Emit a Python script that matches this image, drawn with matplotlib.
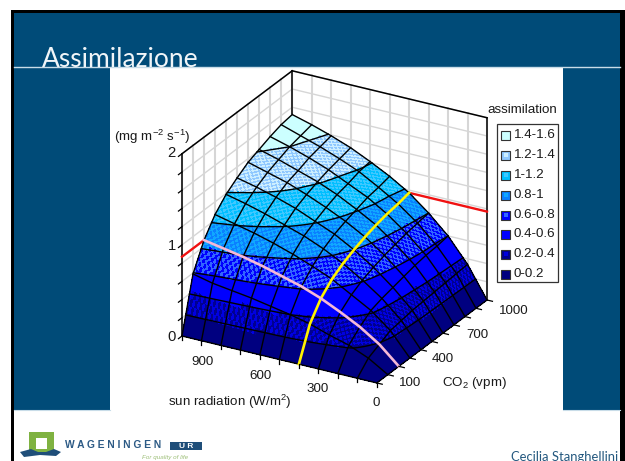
import numpy as np
import matplotlib
matplotlib.use("Agg")
import matplotlib.pyplot as plt
from matplotlib.patches import Rectangle, Polygon
from mpl_toolkits.mplot3d import proj3d

plt.rcParams['font.family'] = ['Liberation Sans', 'DejaVu Sans']
plt.rcParams['mathtext.fontset'] = 'custom'
plt.rcParams['mathtext.rm'] = 'Liberation Sans'
plt.rcParams['mathtext.default'] = 'regular'

# ---------- data ----------
co2 = [0, 100, 200, 300, 400, 500, 600, 700, 800, 900, 1000]
radiation = [0, 100, 200, 300, 400, 500, 600, 700, 800, 900, 1000]
assim_r0 = [0, 0, 0, 0, 0, 0, 0, 0, 0, 0, 0]
assim_r100 = [0, .13, .19, .25, .27, .29, .30, .31, .32, .33, .34]
assim_r200 = [0, .22, .33, .42, .46, .49, .52, .55, .57, .58, .60]
assim_r300 = [0, .28, .44, .54, .61, .66, .70, .73, .76, .78, .80]
assim_r400 = [0, .35, .54, .66, .74, .80, .85, .89, .92, .94, .97]
assim_r500 = [0, .40, .62, .75, .85, .92, .97, 1.01, 1.05, 1.07, 1.10]
assim_r600 = [0, .44, .68, .83, .94, 1.01, 1.07, 1.12, 1.15, 1.19, 1.21]
assim_r700 = [0, .48, .74, .90, 1.01, 1.10, 1.16, 1.21, 1.25, 1.28, 1.31]
assim_r800 = [0, .51, .79, .96, 1.08, 1.17, 1.24, 1.28, 1.33, 1.36, 1.39]
assim_r900 = [0, .54, .83, 1.01, 1.14, 1.23, 1.30, 1.35, 1.40, 1.43, 1.46]
assim_r1000 = [0, .59, .87, 1.06, 1.19, 1.28, 1.36, 1.41, 1.46, 1.50, 1.52]
red_left_level = [.87, .87]
red_right_level = [.97, .97]
z_ticks = [0, 1, 2]
z_grid = [0, .2, .4, .6, .8, 1, 1.2, 1.4, 1.6, 1.8, 2]
band_levels = [0, .2, .4, .6, .8, 1, 1.2, 1.4, 1.6]
band_labels = ['0-0.2', '0.2-0.4', '0.4-0.6', '0.6-0.8', '0.8-1', '1-1.2', '1.2-1.4', '1.4-1.6']
band_colors_a = ['#000080', '#000090', '#0000FF', '#0000FF', '#0A80FF', '#00BFFF', '#8FC8FF', '#CCFFFF']
band_colors_b = ['#000080', '#0000E0', '#0000FF', '#3366FF', '#10A8FF', '#40C8FF', '#CCEEFF', '#CCFFFF']

Z = np.array([assim_r0, assim_r100, assim_r200, assim_r300, assim_r400, assim_r500,
              assim_r600, assim_r700, assim_r800, assim_r900, assim_r1000])
co2_arr = np.array(co2, float)
rad_arr = np.array(radiation, float)

W, H = 625, 461
NAVY = '#004B78'
fig = plt.figure(figsize=(W / 100, H / 100), dpi=100, facecolor='white')

# ---------- slide background, in pixel coordinates ----------
bg = fig.add_axes([0, 0, 1, 1])
bg.set_xlim(0, W)
bg.set_ylim(H, 0)
bg.set_axis_off()
bg.add_patch(Rectangle((11, 10), 614, 451, fc='black', ec='none'))
bg.add_patch(Rectangle((13.5, 13), 606.5, 448, fc='white', ec='none'))
bg.add_patch(Rectangle((13.5, 13), 606.5, 397, fc=NAVY, ec='none'))
bg.add_patch(Rectangle((110, 68), 453, 343, fc='white', ec='none'))
bg.plot([13.5, 620], [67.5, 67.5], color='#C8DCE8', lw=1)
bg.plot([13.5, 110], [410, 410], color='#C8DCE8', lw=.8)
bg.plot([563, 620], [410, 410], color='#C8DCE8', lw=.8)
bg.text(42, 67, 'Assimilazione', family=['Lato', 'Liberation Sans'],
        fontsize=19, color='#F0F5F8', ha='left', va='baseline')

# logo
bg.add_patch(Polygon([(29, 432), (54, 432), (54, 452), (29, 452)], fc='#7FB241', ec='none'))
bg.add_patch(Rectangle((36, 438), 11, 11, fc='white', ec='none'))
bg.add_patch(Polygon([(20, 452), (31, 449), (38, 452), (46, 452), (54, 449), (61, 452),
                      (56, 456), (40, 455), (24, 457)], fc='#1F4E79', ec='none'))
bg.text(65, 445, 'W A G E N I N G E N', fontsize=7.4, fontweight='bold', color='#2C5A85', ha='left', va='center')
bg.add_patch(Rectangle((170, 442), 32, 8, fc='#1F4E79', ec='none'))
bg.text(186, 446, 'U R', fontsize=6, fontweight='bold', color='white', ha='center', va='center')
bg.text(142, 457, 'For quality of life', fontsize=4.5, style='italic', color='#9DBF78', ha='left', va='center')
bg.text(511, 460.5, 'Cecilia Stanghellini', family=['Lato', 'Liberation Sans'],
        fontsize=9.4, color='#24587F', ha='left', va='baseline')

# chart texts
FS = 9.6
TC = '#1a1a1a'
for v, y in zip(z_ticks, [337, 246, 153]):
    bg.text(176, y, str(v), fontsize=FS + 1, color=TC, ha='right', va='center')
bg.text(114, 137, '(mg m$^{-2}$ s$^{-1}$)', fontsize=FS, color=TC, ha='left', va='center')
for s, x, y in zip(['900', '600', '300', '0'], [202, 260, 318, 376], [362, 376, 389, 403]):
    bg.text(x, y, s, fontsize=FS, color=TC, ha='center', va='center')
for s, x, y in zip(['100', '400', '700', '1000'], [410, 443, 477, 514], [383, 359, 335, 311]):
    bg.text(x, y, s, fontsize=FS, color=TC, ha='center', va='center')
bg.text(168, 402, 'sun radiation (W/m$^2$)', fontsize=FS, color=TC, ha='left', va='center')
bg.text(442, 383, 'CO$_2$ (vpm)', fontsize=FS, color=TC, ha='left', va='center')

# legend
bg.text(522, 110, 'assimilation', fontsize=FS, color=TC, ha='center', va='center')
bg.add_patch(Rectangle((497, 124), 61, 158, fc='white', ec='#333333', lw=.9))
legend_y = [274, 254, 234, 215, 195, 175, 155, 135]
for lab, ca, cb, y in zip(band_labels, band_colors_a, band_colors_b, legend_y):
    bg.add_patch(Rectangle((501, y - 4.5), 9, 9, fc=ca, ec='#333333', lw=.8))
    bg.add_patch(Rectangle((503.5, y - 2), 4, 4, fc=cb, ec='none'))
    bg.text(513.5, y, lab, fontsize=FS, color=TC, ha='left', va='center')

# ---------- 3D chart ----------
ax = fig.add_axes([.1, .1, .8, .8], projection='3d', proj_type='ortho')
ax.patch.set_visible(False)
ax.set_axis_off()
ax.computed_zorder = False
ax.view_init(elev=25.2, azim=-150.5)
ax.set_box_aspect((1, 1, .9))
ax.set_xlim(0, 1000)
ax.set_ylim(0, 1000)
ax.set_zlim(0, 2)


def to_px(c, r, z):
    x, y, _ = proj3d.proj_transform(c, r, z, ax.get_proj())
    d = ax.transData.transform((x, y))
    return d[0], H - d[1]


# fit the 3D box to the frame seen in the picture
for _ in range(4):
    ax.apply_aspect()
    lx, ly = to_px(0, 1000, 0)
    rx, ry = to_px(1000, 0, 0)
    pos = ax.get_position(original=True)
    s = (487 - 182) / (rx - lx)
    w = pos.width * W * s
    cx = pos.x0 * W + pos.width * W / 2
    cy = pos.y0 * H + pos.height * H / 2
    ax.set_position([(cx - w / 2) / W, (cy - w / 2) / H, w / W, w / H])
    ax.apply_aspect()
    lx, ly = to_px(0, 1000, 0)
    pos = ax.get_position(original=True)
    ax.set_position([pos.x0 + (182 - lx) / W, pos.y0 - (336 - ly) / H, pos.width, pos.height])
ax.apply_aspect()

GRID = '#D6D6D6'
for c in co2:
    ax.plot([c, c], [1000, 1000], [0, 2], color=GRID, lw=1.5, zorder=1)
for r in radiation:
    ax.plot([1000, 1000], [r, r], [0, 2], color=GRID, lw=1.5, zorder=1)
for z in z_grid:
    ax.plot([0, 1000], [1000, 1000], [z, z], color=GRID, lw=1, zorder=1)
    ax.plot([1000, 1000], [0, 1000], [z, z], color=GRID, lw=1, zorder=1)

# frame
FK = dict(color='black', lw=1.1, zorder=1.5)
ax.plot([0, 0], [1000, 1000], [0, 2], **FK)
ax.plot([0, 1000], [1000, 1000], [2, 2], **FK)
ax.plot([1000, 1000], [1000, 0], [2, 2], **FK)
ax.plot([1000, 1000], [0, 0], [0, 2], **FK)
ax.plot([1000, 1000], [1000, 1000], [0, 2], **FK)
for z in z_grid:
    ax.plot([0, -32], [1000, 1000], [z, z], color='black', lw=.9, zorder=1.5)

# red level lines on the walls
ax.plot([0, 200], [1000, 1000], red_left_level, color='#F01010', lw=1.7, zorder=2)
ax.plot([1000, 1000], [0, 400], red_right_level, color='#F01010', lw=1.7, zorder=2)

# surface: each grid cell is split so the value bands can be filled inside it
N = 8
idx = np.linspace(0, 10, 10 * N + 1)
base = np.arange(11)
Zc = np.array([np.interp(idx, base, row) for row in Z])
Zf = np.array([np.interp(idx, base, col) for col in Zc.T]).T
cf = np.interp(idx, base, co2_arr)
rf = np.interp(idx, base, rad_arr)
Xf, Yf = np.meshgrid(cf, rf)

cellz = (Zf[:-1, :-1] + Zf[1:, :-1] + Zf[:-1, 1:] + Zf[1:, 1:]) / 4
band = np.clip(np.digitize(cellz, band_levels) - 1, 0, 7)
rgba_a = matplotlib.colors.to_rgba_array(band_colors_a)
rgba_b = matplotlib.colors.to_rgba_array(band_colors_b)
ii, jj = np.indices(band.shape)
fcols = np.where(((ii + jj) % 2 == 0)[..., None], rgba_a[band], rgba_b[band])
ax.plot_surface(Xf, Yf, Zf, rstride=1, cstride=1, facecolors=fcols, shade=False,
                antialiased=False, linewidth=0, zorder=3)

# band boundary lines, traced on a throw-away figure and laid on the surface
tmp_fig, tmp_ax = plt.subplots()
cs = tmp_ax.contour(Xf, Yf, Zf, levels=band_levels[1:-1])
for lev, segs in zip(cs.levels, cs.allsegs):
    for seg in segs:
        ax.plot(seg[:, 0], seg[:, 1], [lev] * len(seg), color='black', lw=1.0, zorder=4)
plt.close(tmp_fig)

for k in range(11):
    ax.plot(co2_arr, [rad_arr[k]] * 11, Z[k], color='black', lw=1.0, zorder=5)
    ax.plot([co2_arr[k]] * 11, rad_arr, Z[:, k], color='black', lw=1.0, zorder=5)

# marked lines on the surface
ax.plot(cf, [400] * len(cf), Zf[4 * N], color='#FFF200', lw=1.9, zorder=6)
ax.plot([200] * len(rf), rf, Zf[:, 2 * N], color='#F5B8D8', lw=1.9, zorder=6)

# floor ticks
for r in radiation:
    ax.plot([0, 0], [r, r], [0, -.045], color='black', lw=.9, zorder=6)
for c in co2:
    ax.plot([c, c], [0, -28], [0, 0], color='black', lw=.9, zorder=6)

ax.set_xlim(0, 1000)
ax.set_ylim(0, 1000)
ax.set_zlim(0, 2)

fig.savefig('out.png', dpi=100, facecolor='white')
